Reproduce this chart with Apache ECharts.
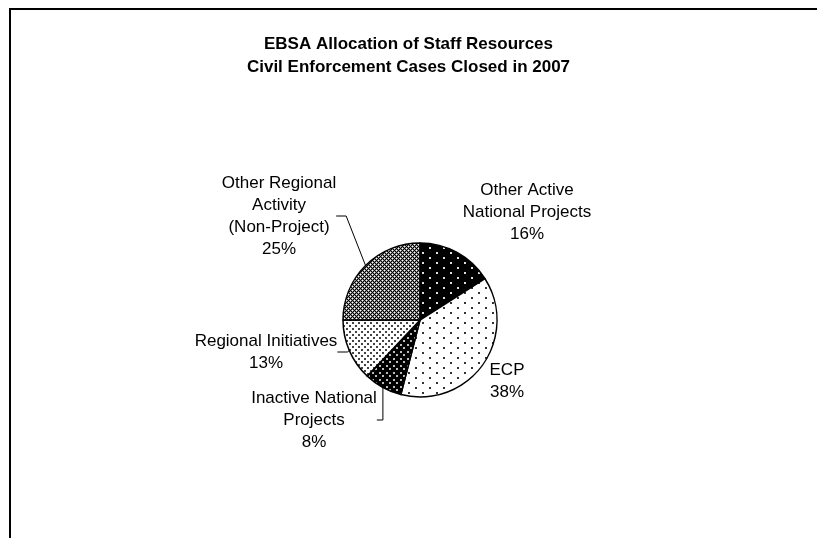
<!DOCTYPE html>
<html>
<head>
<meta charset="utf-8">
<script src="https://cdn.jsdelivr.net/npm/echarts@6/dist/echarts.min.js"></script>
<style>
  html, body { margin: 0; padding: 0; background: #fff; overflow: hidden; }
  #frame { position: absolute; left: 9px; top: 8px; width: 900px; height: 700px;
           border-top: 2px solid #000; border-left: 2px solid #000; }
  #chart { position: absolute; left: 0; top: 0; width: 817px; height: 538px; }
</style>
</head>
<body>
<div id="frame"></div>
<div id="chart"></div>
<script>
// data
const categories = [
  "Other Active\nNational Projects",
  "ECP",
  "Inactive National\nProjects",
  "Regional Initiatives",
  "Other Regional\nActivity\n(Non-Project)"
];
const shares = [16, 38, 8, 13, 25];

// label anchors (centre of text block) and whether a leader line is drawn
const labelAt = [[527, 212], [507, 381], [314, 420], [266, 352], [279, 216]];
const showLine = [false, false, true, true, true];

// small tiled fills that mimic the printed hatch patterns
function makeTile(w, h, bg, fg, dots, size) {
  const c = document.createElement("canvas");
  c.width = w; c.height = h;
  const g = c.getContext("2d");
  g.fillStyle = bg;
  g.fillRect(0, 0, w, h);
  g.fillStyle = fg;
  dots.forEach(d => g.fillRect(d[0], d[1], size, size));
  return { image: c, repeat: "repeat" };
}
// diagonal lattice: black diagonals, white diamond centres, grey rest
function crossTile() {
  const c = document.createElement("canvas");
  c.width = 4; c.height = 4;
  const g = c.getContext("2d");
  for (let x = 0; x < 4; x++) {
    for (let y = 0; y < 4; y++) {
      let col = "#8c8c8c";
      if ((x + y) % 4 === 0 || (x - y + 4) % 4 === 0) col = "#000";
      else if ((x === 2 && y === 0) || (x === 0 && y === 2)) col = "#fff";
      g.fillStyle = col;
      g.fillRect(x, y, 1, 1);
    }
  }
  return { image: c, repeat: "repeat" };
}

const fills = [
  makeTile(14, 10, "#000", "#ddd", [[2, 2], [9, 7]], 2),
  makeTile(14, 10, "#fff", "#333", [[2, 2], [9, 7]], 2),
  makeTile(7, 7, "#000", "#bbb", [[1, 1], [4, 4]], 2),
  makeTile(6, 6, "#fff", "#444", [[1, 1], [4, 4]], 2),
  crossTile()
];

const chart = echarts.init(document.getElementById("chart"));
chart.setOption({
  animation: false,
  backgroundColor: "transparent",
  title: {
    text: "EBSA Allocation of Staff Resources\nCivil Enforcement Cases Closed in 2007",
    left: "center",
    top: 28,
    textStyle: {
      fontFamily: "Liberation Sans, Arial, sans-serif",
      fontSize: 17,
      fontWeight: "bold",
      lineHeight: 23,
      color: "#000"
    }
  },
  series: [{
    type: "pie",
    center: [420, 320],
    radius: 77,
    startAngle: 90,
    clockwise: true,
    percentPrecision: 0,
    itemStyle: { borderColor: "#000", borderWidth: 1.5 },
    label: {
      show: true,
      position: "outside",
      formatter: "{b}\n{d}%",
      fontFamily: "Liberation Sans, Arial, sans-serif",
      fontSize: 17,
      lineHeight: 22,
      color: "#000",
      align: "center"
    },
    labelLine: { show: true, lineStyle: { color: "#000", width: 1 }, length: 10, length2: 10 },
    labelLayout: function (p) {
      const a = labelAt[p.dataIndex];
      return { x: a[0], y: a[1], align: "center", verticalAlign: "middle" };
    },
    emphasis: { disabled: true },
    data: categories.map((name, i) => ({
      name: name,
      value: shares[i],
      itemStyle: { color: fills[i] },
      labelLine: { show: showLine[i] }
    }))
  }]
});
</script>
</body>
</html>
